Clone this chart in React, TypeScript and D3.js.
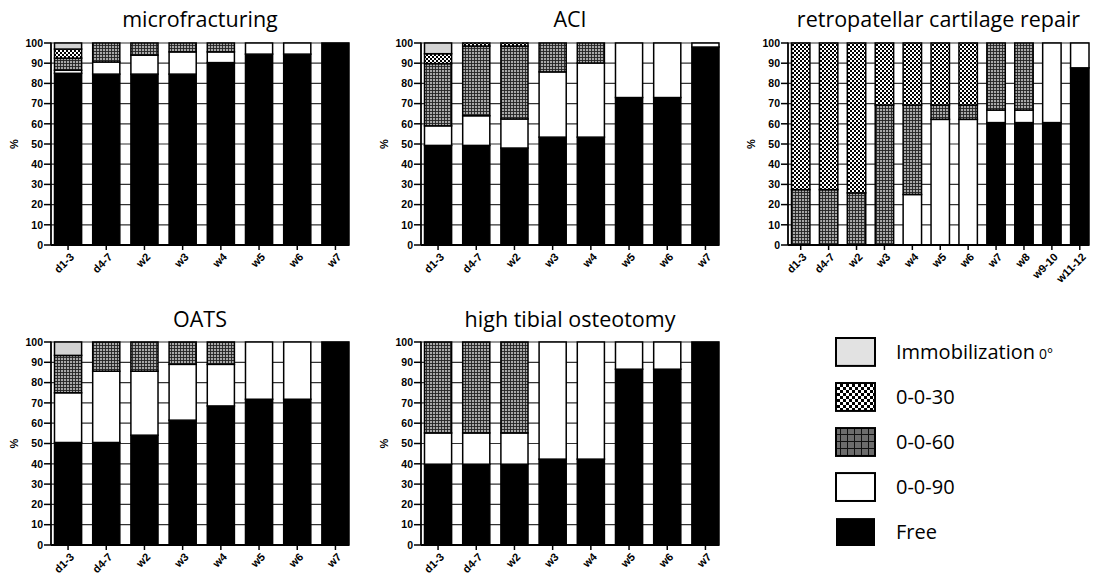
import React from 'react';
import * as d3 from 'd3';

// stages, bottom to top of each stack
const keys = ['free', 'r90', 'r60', 'r30', 'imm'];
const legendLabels = ['Immobilization', '0-0-30', '0-0-60', '0-0-90', 'Free'];
const legendKeys = ['imm', 'r30', 'r60', 'r90', 'free'];

const cats8 = ['d1-3', 'd4-7', 'w2', 'w3', 'w4', 'w5', 'w6', 'w7'];
const cats11 = ['d1-3', 'd4-7', 'w2', 'w3', 'w4', 'w5', 'w6', 'w7', 'w8', 'w9-10', 'w11-12'];
const yTicks = [0, 10, 20, 30, 40, 50, 60, 70, 80, 90, 100];

// microfracturing
const mfFree = [85, 84.6, 84.6, 84.6, 90.3, 94.5, 94.5, 100];
const mf90 = [1.5, 6, 9.4, 11, 5.3, 5.5, 5.5, 0];
const mf60 = [6, 9.4, 6, 4.4, 4.4, 0, 0, 0];
const mf30 = [4.5, 0, 0, 0, 0, 0, 0, 0];
const mfImm = [3, 0, 0, 0, 0, 0, 0, 0];

// ACI
const aciFree = [49.3, 49.3, 48, 53.4, 53.4, 73, 73, 98];
const aci90 = [9.7, 14.7, 14.4, 32.3, 36.7, 27, 27, 2];
const aci60 = [30.8, 34.5, 36.1, 14.3, 9.9, 0, 0, 0];
const aci30 = [4.9, 1.5, 1.5, 0, 0, 0, 0, 0];
const aciImm = [5.3, 0, 0, 0, 0, 0, 0, 0];

// retropatellar cartilage repair
const rpFree = [0, 0, 0, 0, 0, 0, 0, 60.6, 60.6, 60.6, 87.7];
const rp90 = [0, 0, 0, 0, 25, 62.2, 62.2, 6.2, 6.2, 39.4, 12.3];
const rp60 = [27.4, 27.4, 25.8, 69.3, 44.3, 7.1, 7.1, 33.2, 33.2, 0, 0];
const rp30 = [72.6, 72.6, 74.2, 30.7, 30.7, 30.7, 30.7, 0, 0, 0, 0];
const rpImm = [0, 0, 0, 0, 0, 0, 0, 0, 0, 0, 0];

// OATS
const oaFree = [50.5, 50.5, 54.1, 61.5, 68.5, 71.8, 71.8, 100];
const oa90 = [24.5, 35.1, 31.5, 27.5, 20.5, 28.2, 28.2, 0];
const oa60 = [18.4, 14.4, 14.4, 11, 11, 0, 0, 0];
const oa30 = [0, 0, 0, 0, 0, 0, 0, 0];
const oaImm = [6.6, 0, 0, 0, 0, 0, 0, 0];

// high tibial osteotomy
const htFree = [39.8, 39.8, 39.8, 42.3, 42.3, 86.6, 86.6, 100];
const ht90 = [15.4, 15.4, 15.4, 57.7, 57.7, 13.4, 13.4, 0];
const ht60 = [44.8, 44.8, 44.8, 0, 0, 0, 0, 0];
const ht30 = [0, 0, 0, 0, 0, 0, 0, 0];
const htImm = [0, 0, 0, 0, 0, 0, 0, 0];

const fills = {
  free: '#000',
  r90: '#fff',
  r60: 'url(#grid)',
  r30: 'url(#checker)',
  imm: '#d3d3d3',
};
const legendFills = {
  free: '#000',
  r90: '#fff',
  r60: 'url(#gridL)',
  r30: 'url(#checkerL)',
  imm: '#e2e2e2',
};

const tickFont = '"Liberation Sans", Arial, sans-serif';
const titleFont = '"Open Sans", "Noto Sans", sans-serif';

function Panel({ title, cats, series, left, right, top, bottom, titleY, pad }) {
  const y = d3.scaleLinear().domain([0, 100]).range([bottom, top]);
  const x = d3.scaleBand().domain(cats).range([left + 3.5, right]).paddingInner(pad).paddingOuter(0);
  const rows = cats.map((c, i) => {
    const r = { cat: c };
    keys.forEach(k => { r[k] = series[k][i]; });
    return r;
  });
  const stacked = d3.stack().keys(keys)(rows);

  return (
    <g>
      <text x={(left + right) / 2} y={titleY} textAnchor="middle"
        style={{ fontFamily: titleFont, fontSize: 21.5 }}>{title}</text>
      {/* grid lines */}
      {yTicks.filter(t => t > 0).map(t => (
        <line key={t} x1={left} x2={right} y1={y(t)} y2={y(t)} stroke="#333" strokeWidth={1.2} />
      ))}
      {/* bars */}
      {stacked.map(layer => layer.map((d, i) => {
        if (d[1] - d[0] <= 0) return null;
        return (
          <rect key={layer.key + i} x={x(cats[i])} width={x.bandwidth()}
            y={y(d[1])} height={y(d[0]) - y(d[1])}
            fill={fills[layer.key]} stroke="#000" strokeWidth={1.5} />
        );
      }))}
      {/* y axis */}
      <line x1={left} x2={left} y1={top - 0.5} y2={bottom} stroke="#000" strokeWidth={1.8} />
      {yTicks.map(t => (
        <g key={t}>
          <line x1={left - 7} x2={left} y1={y(t)} y2={y(t)} stroke="#000" strokeWidth={1.5} />
          <text x={left - 8} y={y(t)} dy="0.36em" textAnchor="end"
            style={{ fontFamily: tickFont, fontSize: 10.5, fontWeight: 'bold' }}>{t}</text>
        </g>
      ))}
      <text transform={`translate(${left - 33},${(top + bottom) / 2}) rotate(-90)`} textAnchor="middle"
        style={{ fontFamily: tickFont, fontSize: 11, fontWeight: 'bold' }}>%</text>
      {/* x axis */}
      <line x1={left} x2={right} y1={bottom} y2={bottom} stroke="#000" strokeWidth={1.8} />
      {cats.map(c => {
        const cx = x(c) + x.bandwidth() / 2;
        return (
          <g key={c}>
            <line x1={cx} x2={cx} y1={bottom} y2={bottom + 5} stroke="#000" strokeWidth={1.5} />
            <text transform={`translate(${cx + 4},${bottom + 10}) rotate(-45)`} textAnchor="end" dy="0.35em"
              style={{ fontFamily: tickFont, fontSize: 11, fontWeight: 'bold' }}>{c}</text>
          </g>
        );
      })}
    </g>
  );
}

export default function App() {
  const legendY = d3.scaleBand().domain(legendKeys).range([338, 546]).paddingInner(0.38);

  return (
    <svg width={1101} height={580} style={{ position: 'absolute', left: 0, top: 0, background: '#fff' }}>
      <defs>
        <pattern id="checker" width={4} height={4} patternUnits="userSpaceOnUse">
          <rect width={4} height={4} fill="#fff" />
          <rect width={2} height={2} fill="#000" />
          <rect x={2} y={2} width={2} height={2} fill="#000" />
        </pattern>
        <pattern id="grid" width={3} height={3} patternUnits="userSpaceOnUse">
          <rect width={3} height={3} fill="#a8a8a8" />
          <rect width={3} height={0.9} fill="#222" />
          <rect width={0.9} height={3} fill="#222" />
        </pattern>
        <pattern id="checkerL" width={6} height={6} patternUnits="userSpaceOnUse">
          <rect width={6} height={6} fill="#fff" />
          <rect width={3} height={3} fill="#000" />
          <rect x={3} y={3} width={3} height={3} fill="#000" />
        </pattern>
        <pattern id="gridL" width={7} height={7} patternUnits="userSpaceOnUse">
          <rect width={7} height={7} fill="#6c6c6c" />
          <rect width={7} height={1} fill="#111" />
          <rect width={1} height={7} fill="#111" />
        </pattern>
      </defs>

      <Panel title="microfracturing" cats={cats8} left={51} right={349} top={43} bottom={245} titleY={27} pad={0.29}
        series={{ free: mfFree, r90: mf90, r60: mf60, r30: mf30, imm: mfImm }} />
      <Panel title="ACI" cats={cats8} left={421} right={719} top={43} bottom={245} titleY={27} pad={0.29}
        series={{ free: aciFree, r90: aci90, r60: aci60, r30: aci30, imm: aciImm }} />
      <Panel title="retropatellar cartilage repair" cats={cats11} left={788} right={1089} top={43} bottom={245} titleY={27} pad={0.34}
        series={{ free: rpFree, r90: rp90, r60: rp60, r30: rp30, imm: rpImm }} />
      <Panel title="OATS" cats={cats8} left={51} right={349} top={342} bottom={545} titleY={327} pad={0.29}
        series={{ free: oaFree, r90: oa90, r60: oa60, r30: oa30, imm: oaImm }} />
      <Panel title="high tibial osteotomy" cats={cats8} left={421} right={719} top={342} bottom={545} titleY={327} pad={0.29}
        series={{ free: htFree, r90: ht90, r60: ht60, r30: ht30, imm: htImm }} />

      {/* legend */}
      {legendKeys.map((k, i) => {
        const yy = legendY(k);
        const h = legendY.bandwidth();
        return (
          <g key={k}>
            <rect x={836} y={yy} width={39} height={h} fill={legendFills[k]}
              stroke={k === 'free' ? 'none' : '#000'} strokeWidth={2} />
            <text x={896} y={yy + h / 2} dy="0.36em" style={{ fontFamily: titleFont, fontSize: 20 }}>
              {legendLabels[i]}
              {k === 'imm' ? <tspan style={{ fontSize: 14 }} dx={4}>0°</tspan> : null}
            </text>
          </g>
        );
      })}
    </svg>
  );
}
